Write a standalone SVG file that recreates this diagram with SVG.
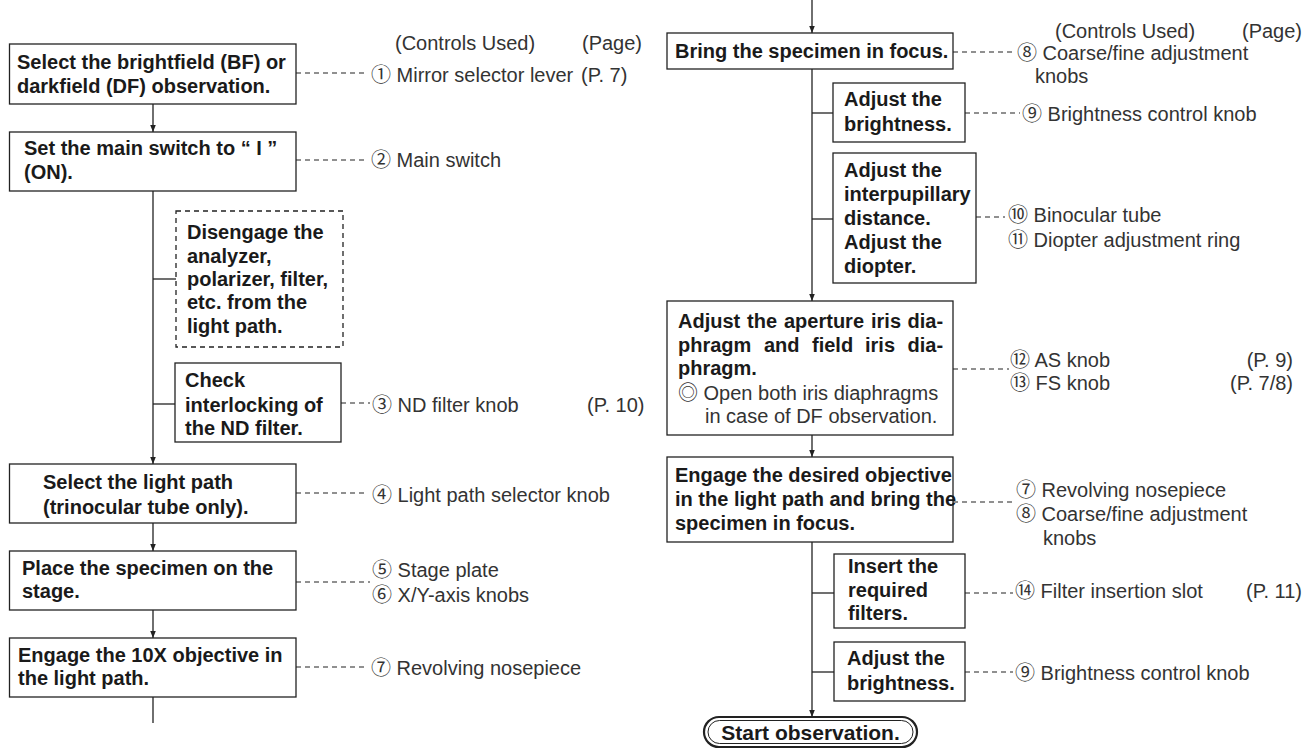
<svg xmlns="http://www.w3.org/2000/svg" width="1304" height="751" viewBox="0 0 1304 751">
<style>
.box{fill:#fff;stroke:#222;stroke-width:1.3}
.dbox{fill:#fff;stroke:#222;stroke-width:1.3;stroke-dasharray:5 4}
.ln{fill:none;stroke:#222;stroke-width:1.3}
.dash{fill:none;stroke:#222;stroke-width:1.2;stroke-dasharray:5 4}
.t{font-family:"Liberation Sans","DejaVu Sans",sans-serif;font-size:20px;font-weight:bold;fill:#1a1a1a}
.l{font-family:"Liberation Sans","DejaVu Sans",sans-serif;font-size:20px;fill:#333}
.cd{font-family:"Noto Sans CJK JP","DejaVu Sans",sans-serif;font-weight:normal}
</style>
<defs>
<marker id="ah" viewBox="0 0 10 10" refX="10" refY="5" markerWidth="7" markerHeight="7" markerUnits="userSpaceOnUse" orient="auto">
<path d="M0,1 L10,5 L0,9 Z" fill="#222"/>
</marker>
</defs>
<rect width="1304" height="751" fill="#fff"/>

<g id="connectors">
<line class="ln" x1="153" y1="104" x2="153" y2="132" marker-end="url(#ah)"/>
<line class="ln" x1="153" y1="191" x2="153" y2="464" marker-end="url(#ah)"/>
<line class="ln" x1="153" y1="279" x2="176" y2="279"/>
<line class="ln" x1="153" y1="404" x2="175" y2="404"/>
<line class="ln" x1="153" y1="523" x2="153" y2="551" marker-end="url(#ah)"/>
<line class="ln" x1="153" y1="610" x2="153" y2="638" marker-end="url(#ah)"/>
<line class="ln" x1="153" y1="697" x2="153" y2="723"/>
<line class="dash" x1="296" y1="73" x2="368" y2="73"/>
<line class="dash" x1="296" y1="160" x2="368" y2="160"/>
<line class="dash" x1="341" y1="403" x2="370" y2="403"/>
<line class="dash" x1="296" y1="493" x2="368" y2="493"/>
<line class="dash" x1="296" y1="582" x2="370" y2="582"/>
<line class="dash" x1="296" y1="667" x2="368" y2="667"/>

<line class="ln" x1="812" y1="0" x2="812" y2="33" marker-end="url(#ah)"/>
<line class="ln" x1="812" y1="69" x2="812" y2="301" marker-end="url(#ah)"/>
<line class="ln" x1="812" y1="113" x2="833" y2="113"/>
<line class="ln" x1="812" y1="219" x2="833" y2="219"/>
<line class="ln" x1="812" y1="435" x2="812" y2="457" marker-end="url(#ah)"/>
<line class="ln" x1="812" y1="542" x2="812" y2="717" marker-end="url(#ah)"/>
<line class="ln" x1="812" y1="593" x2="834" y2="593"/>
<line class="ln" x1="812" y1="672" x2="834" y2="672"/>
<line class="dash" x1="953" y1="52" x2="1015" y2="52"/>
<line class="dash" x1="965" y1="113" x2="1020" y2="113"/>
<line class="dash" x1="976" y1="217" x2="1005" y2="217"/>
<line class="dash" x1="953" y1="369" x2="1009" y2="369"/>
<line class="dash" x1="953" y1="502" x2="1013" y2="502"/>
<line class="dash" x1="965" y1="593" x2="1013" y2="593"/>
<line class="dash" x1="965" y1="672" x2="1013" y2="672"/>
</g>

<g id="headers">
<text class="l" x="395" y="50">(Controls Used)</text>
<text class="l" x="582" y="50">(Page)</text>
<text class="l" x="1055" y="38">(Controls Used)</text>
<text class="l" x="1242" y="38">(Page)</text>
</g>

<g id="n1">
<rect class="box" x="9.5" y="44" width="286.5" height="60"/>
<text class="t" x="17" y="69">Select the brightfield (BF) or</text>
<text class="t" x="17" y="93">darkfield (DF) observation.</text>
</g>
<g id="c1"><text class="l" x="371" y="82"><tspan class="cd">①</tspan> Mirror selector lever</text><text class="l" x="581" y="82">(P. 7)</text></g>

<g id="n2">
<rect class="box" x="9.5" y="132" width="286.5" height="59"/>
<text class="t" x="24" y="155">Set the main switch to “ I ”</text>
<text class="t" x="24" y="179">(ON).</text>
</g>
<g id="c2"><text class="l" x="371" y="167"><tspan class="cd">②</tspan> Main switch</text></g>

<g id="n3">
<rect class="dbox" x="176" y="211" width="167" height="136"/>
<text class="t" x="187" y="239">Disengage the</text>
<text class="t" x="187" y="263">analyzer,</text>
<text class="t" x="187" y="286">polarizer, filter,</text>
<text class="t" x="187" y="309">etc. from the</text>
<text class="t" x="187" y="333">light path.</text>
</g>

<g id="n4">
<rect class="box" x="175" y="363" width="166" height="79"/>
<text class="t" x="185" y="387">Check</text>
<text class="t" x="185" y="412">interlocking of</text>
<text class="t" x="185" y="435">the ND filter.</text>
</g>
<g id="c3"><text class="l" x="372" y="412"><tspan class="cd">③</tspan> ND filter knob</text><text class="l" x="587" y="412">(P. 10)</text></g>

<g id="n5">
<rect class="box" x="9.5" y="464" width="286.5" height="59"/>
<text class="t" x="43" y="489">Select the light path</text>
<text class="t" x="43" y="514">(trinocular tube only).</text>
</g>
<g id="c4"><text class="l" x="372" y="502"><tspan class="cd">④</tspan> Light path selector knob</text></g>

<g id="n6">
<rect class="box" x="9.5" y="551" width="286.5" height="59"/>
<text class="t" x="22" y="575">Place the specimen on the</text>
<text class="t" x="22" y="598">stage.</text>
</g>
<g id="c5"><text class="l"><tspan x="372" y="577"><tspan class="cd">⑤</tspan> Stage plate</tspan><tspan x="372" y="602"><tspan class="cd">⑥</tspan> X/Y-axis knobs</tspan></text></g>

<g id="n7">
<rect class="box" x="9.5" y="638" width="286.5" height="59"/>
<text class="t" x="18" y="662">Engage the 10X objective in</text>
<text class="t" x="18" y="685">the light path.</text>
</g>
<g id="c6"><text class="l" x="371" y="675"><tspan class="cd">⑦</tspan> Revolving nosepiece</text></g>

<g id="n8">
<rect class="box" x="667" y="33" width="286" height="36"/>
<text class="t" x="675" y="58">Bring the specimen in focus.</text>
</g>
<g id="c7"><text class="l"><tspan x="1017" y="60"><tspan class="cd">⑧</tspan> Coarse/fine adjustment</tspan><tspan x="1035" y="83">knobs</tspan></text></g>

<g id="n9">
<rect class="box" x="833" y="83" width="132" height="59"/>
<text class="t" x="844" y="106">Adjust the</text>
<text class="t" x="844" y="131">brightness.</text>
</g>
<g id="c8"><text class="l" x="1022" y="121"><tspan class="cd">⑨</tspan> Brightness control knob</text></g>

<g id="n10">
<rect class="box" x="833" y="153" width="143" height="130"/>
<text class="t" x="844" y="177">Adjust the</text>
<text class="t" x="844" y="201">interpupillary</text>
<text class="t" x="844" y="225">distance.</text>
<text class="t" x="844" y="249">Adjust the</text>
<text class="t" x="844" y="273">diopter.</text>
</g>
<g id="c9"><text class="l"><tspan x="1008" y="222"><tspan class="cd">⑩</tspan> Binocular tube</tspan><tspan x="1008" y="247"><tspan class="cd">⑪</tspan> Diopter adjustment ring</tspan></text></g>

<g id="n11">
<rect class="box" x="667" y="301" width="286" height="134"/>
<text class="t" y="328"><tspan x="678">Adjust</tspan><tspan x="747">the</tspan><tspan x="784">aperture</tspan><tspan x="871">iris</tspan><tspan x="907.5">dia-</tspan></text>
<text class="t" y="352"><tspan x="678">phragm</tspan><tspan x="764">and</tspan><tspan x="812">field</tspan><tspan x="865">iris</tspan><tspan x="907.5">dia-</tspan></text>
<text class="t" x="678" y="375">phragm.</text>
<text class="l"><tspan x="678" y="400"><tspan class="cd">◎</tspan> Open both iris diaphragms</tspan><tspan x="705" y="423">in case of DF observation.</tspan></text>
</g>
<g id="c10"><text class="l"><tspan x="1010" y="367"><tspan class="cd">⑫</tspan> AS knob</tspan><tspan x="1010" y="390"><tspan class="cd">⑬</tspan> FS  knob</tspan></text><text class="l" x="1293" y="367" text-anchor="end">(P. 9)</text><text class="l" x="1293" y="390" text-anchor="end">(P. 7/8)</text></g>

<g id="n12">
<rect class="box" x="667" y="457" width="286" height="85"/>
<text class="t" x="675" y="482">Engage the desired objective</text>
<text class="t" x="675" y="506">in the light path and bring the</text>
<text class="t" x="675" y="530">specimen in focus.</text>
</g>
<g id="c11"><text class="l"><tspan x="1016" y="497"><tspan class="cd">⑦</tspan> Revolving nosepiece</tspan><tspan x="1016" y="521"><tspan class="cd">⑧</tspan> Coarse/fine adjustment</tspan><tspan x="1043" y="545">knobs</tspan></text></g>

<g id="n13">
<rect class="box" x="834" y="554" width="131" height="74"/>
<text class="t" x="848" y="573">Insert the</text>
<text class="t" x="848" y="597">required</text>
<text class="t" x="848" y="620">filters.</text>
</g>
<g id="c12"><text class="l" x="1015" y="598"><tspan class="cd">⑭</tspan> Filter insertion slot</text><text class="l" x="1246" y="598">(P. 11)</text></g>

<g id="n14">
<rect class="box" x="834" y="642" width="131" height="59"/>
<text class="t" x="847" y="665">Adjust the</text>
<text class="t" x="847" y="690">brightness.</text>
</g>
<g id="c13"><text class="l" x="1015" y="680"><tspan class="cd">⑨</tspan> Brightness control knob</text></g>

<g id="n15">
<rect x="704" y="717" width="213" height="30" rx="15" fill="#fff" stroke="#222" stroke-width="2.2"/>
<rect x="708" y="720.5" width="205" height="23" rx="11.5" fill="none" stroke="#222" stroke-width="1"/>
<text class="t" x="810.5" y="739.5" text-anchor="middle" style="font-size:21px">Start observation.</text>
</g>
</svg>
